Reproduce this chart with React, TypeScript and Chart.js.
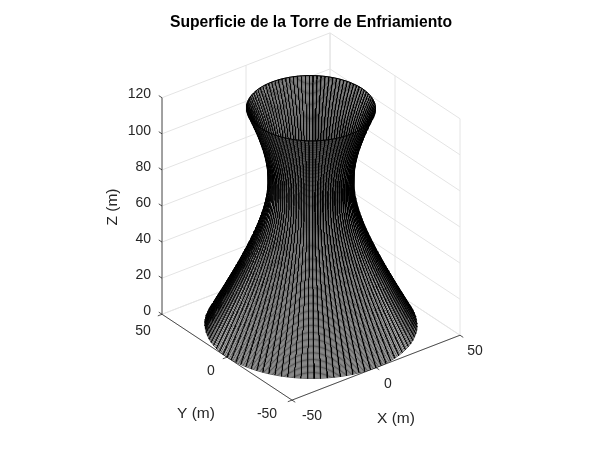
import React, { useEffect, useRef } from "react";
import { Chart, registerables } from "chart.js";

Chart.register(...registerables);

const titleText = "Superficie de la Torre de Enfriamiento";
const xTicks = [-50, 0, 50];
const yTicks = [-50, 0, 50];
const zTicks = [0, 20, 40, 60, 80, 100, 120];
const axisMin = -50;
const axisMax = 50;
const zMax = 120;
const meridianCount = 100;
const ringStep = 0.5; // metres of height between neighbouring rings

// Tower radius (m) read for each half metre of height, z = 0 .. 120
const towerRadii = [
  49.9, 49.64, 49.38, 49.12, 48.85, 48.59, 48.33, 48.07, 47.81, 47.55, 47.29, 47.03, 46.78, 46.52, 46.26, 46.0, 45.75, 45.49, 45.23, 44.98,
  44.72, 44.46, 44.21, 43.95, 43.7, 43.44, 43.19, 42.94, 42.69, 42.43, 42.18, 41.93, 41.68, 41.43, 41.18, 40.93, 40.68, 40.43, 40.19, 39.94,
  39.69, 39.44, 39.2, 38.95, 38.71, 38.46, 38.22, 37.98, 37.74, 37.49, 37.25, 37.01, 36.77, 36.53, 36.29, 36.05, 35.82, 35.58, 35.34, 35.11,
  34.88, 34.64, 34.41, 34.18, 33.95, 33.72, 33.49, 33.26, 33.03, 32.8, 32.58, 32.35, 32.13, 31.9, 31.68, 31.46, 31.24, 31.02, 30.8, 30.58,
  30.37, 30.15, 29.94, 29.73, 29.52, 29.31, 29.1, 28.89, 28.69, 28.48, 28.28, 28.08, 27.88, 27.68, 27.49, 27.29, 27.1, 26.91, 26.72, 26.53,
  26.34, 26.15, 25.97, 25.79, 25.61, 25.43, 25.26, 25.08, 24.91, 24.74, 24.58, 24.41, 24.25, 24.09, 23.93, 23.77, 23.62, 23.47, 23.32, 23.17,
  23.03, 22.89, 22.76, 22.62, 22.49, 22.36, 22.23, 22.11, 21.99, 21.87, 21.76, 21.65, 21.54, 21.43, 21.33, 21.23, 21.14, 21.05, 20.96, 20.88,
  20.8, 20.72, 20.65, 20.58, 20.51, 20.45, 20.4, 20.34, 20.29, 20.24, 20.2, 20.16, 20.13, 20.1, 20.07, 20.05, 20.03, 20.02, 20.01, 20.0,
  20.0, 20.0, 20.01, 20.02, 20.03, 20.05, 20.07, 20.1, 20.13, 20.16, 20.2, 20.24, 20.29, 20.34, 20.4, 20.45, 20.51, 20.58, 20.65, 20.72,
  20.8, 20.88, 20.96, 21.05, 21.14, 21.23, 21.33, 21.43, 21.54, 21.65, 21.76, 21.87, 21.99, 22.11, 22.23, 22.36, 22.49, 22.62, 22.76, 22.89,
  23.03, 23.17, 23.32, 23.47, 23.62, 23.77, 23.93, 24.09, 24.25, 24.41, 24.58, 24.74, 24.91, 25.08, 25.26, 25.43, 25.61, 25.79, 25.97, 26.15,
  26.34, 26.53, 26.72, 26.91, 27.1, 27.29, 27.49, 27.68, 27.88, 28.08, 28.28, 28.48, 28.69, 28.89, 29.1, 29.31, 29.52, 29.73, 29.94, 30.15,
  30.37,
];

// View: az -37.5, el 30, expressed as pixels per metre on the picture
const viewOrigin = [311, 324.5];
const xStep = [1.68, -0.65];
const yStep = [-1.3, -0.86];
const zStep = [0, -1.808];
const cameraFloorDirection = [-0.609, -0.793];

const project = (x: number, y: number, z: number) => ({
  x: viewOrigin[0] + x * xStep[0] + y * yStep[0] + z * zStep[0],
  y: viewOrigin[1] + x * xStep[1] + y * yStep[1] + z * zStep[1],
});

const ink = "#262626";
const gridColor = "#e4e4e4";
const labelFont = '14px "Liberation Sans", Arial, sans-serif';
const axisFont = '15.5px "Liberation Sans", Arial, sans-serif';

function lineSet(points: any[], color: string, width: number, extra: any = {}) {
  return {
    data: points,
    showLine: true,
    borderColor: color,
    borderWidth: width,
    pointRadius: 0,
    pointHoverRadius: 0,
    spanGaps: false,
    tension: 0,
    fill: false,
    ...extra,
  };
}

function towerDatasets() {
  const theta = (i: number) => (2 * Math.PI * i) / meridianCount;
  const strips: { depth: number; sets: any[] }[] = [];
  for (let i = 0; i < meridianCount; i++) {
    const a = theta(i);
    const b = theta(i + 1);
    const mid = (a + b) / 2;
    const depth = Math.cos(mid) * cameraFloorDirection[0] + Math.sin(mid) * cameraFloorDirection[1];
    const outline: any[] = [];
    towerRadii.forEach((r, k) => outline.push(project(r * Math.cos(a), r * Math.sin(a), k * ringStep)));
    for (let k = towerRadii.length - 1; k >= 0; k--) {
      const r = towerRadii[k];
      outline.push(project(r * Math.cos(b), r * Math.sin(b), k * ringStep));
    }
    const rungs: any[] = [];
    towerRadii.forEach((r, k) => {
      rungs.push(project(r * Math.cos(a), r * Math.sin(a), k * ringStep));
      rungs.push(project(r * Math.cos(b), r * Math.sin(b), k * ringStep));
      rungs.push({ x: NaN, y: NaN });
    });
    strips.push({
      depth,
      sets: [
        lineSet(rungs, "#000000", 0.65),
        lineSet(outline, "#000000", 1.0, { fill: "shape", backgroundColor: "#ffffff" }),
      ],
    });
  }
  strips.sort((p, q) => q.depth - p.depth);
  return strips.flatMap((s) => s.sets);
}

function frameDatasets() {
  const sets: any[] = [];
  const seg = (p: number[], q: number[], color: string, width: number) =>
    sets.push(lineSet([project(p[0], p[1], p[2]), project(q[0], q[1], q[2])], color, width));
  const tickLen = 2.5;
  // axes and ticks come first: they sit above the grid
  seg([axisMin, axisMax, 0], [axisMin, axisMax, zMax], ink, 0.8);
  seg([axisMin, axisMin, 0], [axisMin, axisMax, 0], ink, 0.8);
  seg([axisMin, axisMin, 0], [axisMax, axisMin, 0], ink, 0.8);
  zTicks.forEach((z) => seg([axisMin, axisMax, z], [axisMin, axisMax + tickLen, z], ink, 0.8));
  yTicks.forEach((y) => seg([axisMin, y, 0], [axisMin - tickLen, y, 0], ink, 0.8));
  xTicks.forEach((x) => seg([x, axisMin, 0], [x, axisMin - tickLen, 0], ink, 0.8));
  // grid on the two back walls and the floor
  zTicks.forEach((z) => {
    seg([axisMin, axisMax, z], [axisMax, axisMax, z], gridColor, 1);
    seg([axisMax, axisMax, z], [axisMax, axisMin, z], gridColor, 1);
  });
  xTicks.forEach((x) => {
    seg([x, axisMax, 0], [x, axisMax, zMax], gridColor, 1);
    seg([x, axisMin, 0], [x, axisMax, 0], gridColor, 1);
  });
  yTicks.forEach((y) => {
    seg([axisMax, y, 0], [axisMax, y, zMax], gridColor, 1);
    seg([axisMin, y, 0], [axisMax, y, 0], gridColor, 1);
  });
  return sets;
}

const zLabelPlace = { right: 151, up: 2.5 };
const yLabelPlace = [
  [267, 414],
  [211, 371],
  [143, 331],
];
const xLabelPlace = [
  [312, 416],
  [388, 384],
  [475, 351],
];

const labelsPlugin = {
  id: "axisText",
  afterDraw(chart: any) {
    const ctx = chart.ctx;
    ctx.save();
    ctx.fillStyle = ink;
    ctx.textBaseline = "middle";
    ctx.font = labelFont;
    ctx.textAlign = "right";
    zTicks.forEach((z) => {
      const p = project(axisMin, axisMax, z);
      ctx.fillText(String(z), zLabelPlace.right, p.y - zLabelPlace.up);
    });
    ctx.textAlign = "center";
    yTicks.forEach((v, i) => ctx.fillText(String(v), yLabelPlace[i][0], yLabelPlace[i][1]));
    xTicks.forEach((v, i) => ctx.fillText(String(v), xLabelPlace[i][0], xLabelPlace[i][1]));
    ctx.font = axisFont;
    ctx.fillText("Y (m)", 196, 414);
    ctx.fillText("X (m)", 396, 419);
    ctx.translate(113, 207);
    ctx.rotate(-Math.PI / 2);
    ctx.fillText("Z (m)", 0, 0);
    ctx.restore();
  },
};

export default function App() {
  const ref = useRef<HTMLCanvasElement>(null);
  useEffect(() => {
    if (!ref.current) return;
    const chart = new Chart(ref.current, {
      type: "scatter",
      data: { datasets: [...towerDatasets(), ...frameDatasets()] },
      plugins: [labelsPlugin],
      options: {
        animation: false,
        responsive: false,
        events: [],
        layout: { padding: { left: 22, top: 0, right: 0, bottom: 0 } },
        scales: {
          x: { type: "linear", min: 22, max: 600, display: false },
          y: { type: "linear", min: 31, max: 450, reverse: true, display: false },
        },
        plugins: {
          legend: { display: false },
          tooltip: { enabled: false },
          title: {
            display: true,
            text: titleText,
            fullSize: false,
            color: "#000000",
            padding: { top: 13, bottom: 0 },
            font: { family: '"Liberation Sans", Arial, sans-serif', size: 15.7, weight: "bold", lineHeight: 1.2 },
          },
        },
      },
    } as any);
    return () => chart.destroy();
  }, []);
  return (
    <canvas
      ref={ref}
      width={600}
      height={450}
      style={{ position: "absolute", left: 0, top: 0, width: 600, height: 450 }}
    />
  );
}
